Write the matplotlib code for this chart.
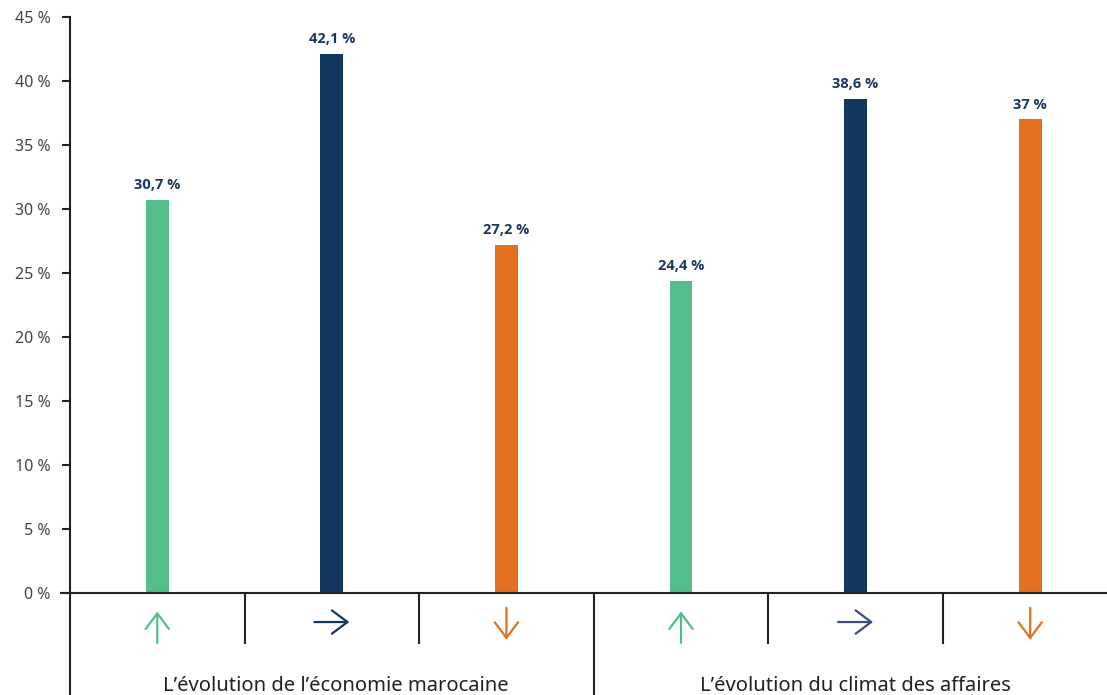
import matplotlib
matplotlib.use("Agg")
import matplotlib.pyplot as plt

plt.rcParams["font.family"] = ["Noto Sans", "DejaVu Sans"]

groups = ["L\u2019\u00e9volution de l\u2019\u00e9conomie marocaine", "L\u2019\u00e9volution du climat des affaires"]
values = [30.7, 42.1, 27.2, 24.4, 38.6, 37.0]
labels = ["30,7 %", "42,1 %", "27,2 %", "24,4 %", "38,6 %", "37 %"]
directions = ["up", "right", "down", "up", "right", "down"]
yticks = [0, 5, 10, 15, 20, 25, 30, 35, 40, 45]

GREEN = "#52BE89"
NAVY = "#14375E"
ORANGE = "#E4711F"
bar_colors = [GREEN, NAVY, ORANGE, GREEN, NAVY, ORANGE]
arrow_colors = [GREEN, NAVY, ORANGE, GREEN, "#3B4E7E", ORANGE]

fig = plt.figure(figsize=(11.07, 6.95), dpi=100)
ax = fig.add_axes([0.0632, 0.1468, 0.9368, 0.8287])

x = list(range(len(values)))
ax.bar(x, values, width=0.13, color=bar_colors, zorder=2)

for xi, v, lab in zip(x, values, labels):
    ax.text(xi, v + 0.6, lab, ha="center", va="bottom", fontsize=10.5,
            fontweight="bold", color="#1B365D", family=["Open Sans", "DejaVu Sans"])

ax.set_xlim(-0.5, 5.44)
ax.set_ylim(0, 45)
ax.set_yticks(yticks)
ax.set_yticklabels([f"{t} %" for t in yticks], fontsize=11.5, color="#444444")
ax.set_xticks([])
ax.tick_params(axis="y", length=6, width=1.5, color="#222222", pad=8)

for s in ["top", "right"]:
    ax.spines[s].set_visible(False)
ax.spines["left"].set_linewidth(1.5)
ax.spines["left"].set_color("#222222")
ax.spines["bottom"].set_linewidth(1.5)
ax.spines["bottom"].set_color("#222222")

# lines below the axis
ax.plot([-0.5, -0.5], [0, -8.5], color="#222222", lw=1.5, clip_on=False)
ax.plot([2.5, 2.5], [0, -8.5], color="#222222", lw=1.5, clip_on=False)
for sx in [0.5, 1.5, 3.5, 4.5]:
    ax.plot([sx, sx], [0, -3.9], color="#222222", lw=1.5, clip_on=False)
ax.plot([-0.55, -0.5], [0, 0], color="#222222", lw=1.5, clip_on=False)

# direction arrows
for xi, d, c in zip(x, directions, arrow_colors):
    if d == "up":
        start, end = (xi, -3.9), (xi, -1.45)
    elif d == "down":
        start, end = (xi, -1.15), (xi, -3.65)
    else:
        start, end = (xi - 0.1, -2.27), (xi + 0.1, -2.27)
    ax.annotate("", xy=end, xytext=start, annotation_clip=False,
                arrowprops=dict(arrowstyle="->,head_length=0.4,head_width=0.3",
                                color=c, lw=1.6, mutation_scale=28,
                                shrinkA=0, shrinkB=0))

ax.text(1.02, -7.27, groups[0], ha="center", va="center", fontsize=14.5, color="#222222")
ax.text(4.0, -7.27, groups[1], ha="center", va="center", fontsize=14.5, color="#222222")

fig.savefig("out.png", dpi=100)
